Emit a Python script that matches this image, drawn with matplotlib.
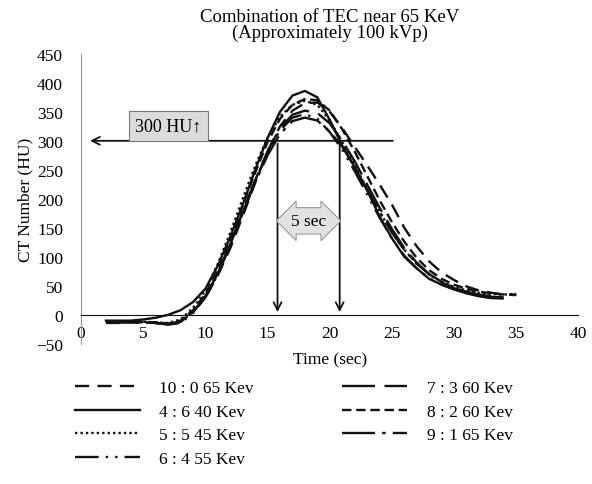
import matplotlib
matplotlib.use("Agg")
import matplotlib.pyplot as plt

plt.rcParams['font.family'] = ['Liberation Serif', 'DejaVu Serif']

# Time (sec) sample points
time = list(range(2, 36))

# CT number (HU) per protocol
hu_10_0 = [-14, -14, -13, -13, -14, -16, -12, 5, 30, 68, 115, 170, 228, 282, 325, 352, 365, 366,
           350, 322, 290, 258, 225, 190, 150, 118, 92, 73, 60, 49, 42, 38, 35, 34]
hu_4_6 = [-10, -10, -10, -8, -5, 0, 8, 22, 45, 85, 135, 190, 250, 305, 350, 378, 386, 375,
          336, 292, 255, 215, 170, 132, 100, 80, 62, 52, 44, 37, 32, 29]
hu_5_5 = [-12, -12, -12, -12, -13, -14, -8, 12, 42, 88, 142, 200, 257, 305, 342, 362, 369, 362,
          335, 298, 258, 218, 178, 142, 112, 88, 70, 57, 48, 42, 38, 36, 35, 36]
hu_6_4 = [-13, -13, -13, -13, -14, -17, -14, 3, 30, 70, 120, 175, 230, 280, 318, 340, 346, 338,
          315, 285, 248, 208, 168, 132, 102, 80, 63, 52, 44, 38, 34, 31, 30]
hu_7_3 = [-12, -12, -12, -13, -14, -16, -12, 5, 32, 72, 122, 178, 232, 282, 322, 345, 352, 348,
          330, 300, 265, 225, 185, 148, 115, 90, 70, 56, 46, 38, 33, 29, 28]
hu_8_2 = [-12, -12, -12, -12, -13, -15, -10, 8, 36, 78, 130, 188, 245, 298, 338, 362, 372, 370,
          352, 320, 282, 240, 198, 160, 126, 98, 77, 62, 52, 45, 40, 37, 35, 35]
hu_9_1 = [-13, -13, -13, -13, -14, -16, -12, 5, 32, 72, 122, 176, 228, 275, 312, 334, 340, 335,
          316, 290, 255, 216, 178, 142, 112, 88, 70, 57, 47, 40, 35, 32, 30]

labels = ["10 : 0 65 Kev", "4 : 6 40 Kev", "5 : 5 45 Kev", "6 : 4 55 Kev",
          "7 : 3 60 Kev", "8 : 2 60 Kev", "9 : 1 65 Kev"]
series = [hu_10_0, hu_4_6, hu_5_5, hu_6_4, hu_7_3, hu_8_2, hu_9_1]

threshold = 300
enter_t, leave_t = 15.8, 20.8

# line styles for each protocol
styles = [(0, (6, 3.5)), '-', (0, (1, 1.3)), (0, (10, 3, 1, 3, 1, 3)),
          (0, (14, 4)), (0, (4, 2)), (0, (14, 3, 1.5, 3))]

fig = plt.figure(figsize=(5.92, 4.85), dpi=100)
ax = fig.add_axes([0.137, 0.289, 0.840, 0.598])

for vals, lab, ls in zip(series, labels, styles):
    ax.plot(time[:len(vals)], vals, color='#111111', lw=1.7, linestyle=ls, label=lab)

ax.set_xlim(0, 40)
ax.set_ylim(-50, 450)
ax.set_xticks(range(0, 41, 5))
ax.set_yticks(range(-50, 451, 50))
ax.tick_params(axis='both', length=0, labelsize=12.5)
ax.tick_params(axis='y', pad=13)
ax.tick_params(axis='x', pad=7)

ax.spines['top'].set_visible(False)
ax.spines['right'].set_visible(False)
ax.spines['left'].set_color('#999999')
ax.spines['bottom'].set_position(('data', 0))
ax.spines['bottom'].set_color('#111111')

ax.set_xlabel("Time (sec)", fontsize=12.5, labelpad=8)
ax.set_ylabel("CT Number (HU)", fontsize=12.5, labelpad=2)
ax.set_title("Combination of TEC near 65 KeV\n(Approximately 100 kVp)", fontsize=13.5,
             linespacing=0.95, pad=12)

# annotations: threshold and time window
arrow = dict(arrowstyle='->', color='#111111', lw=1.3, mutation_scale=14)
ax.annotate('', xy=(0.5, threshold), xytext=(25.3, threshold), arrowprops=arrow)
ax.annotate('', xy=(enter_t, 0), xytext=(enter_t, threshold), arrowprops=arrow)
ax.annotate('', xy=(leave_t, 0), xytext=(leave_t, threshold), arrowprops=arrow)

ax.text(7.0, 326, "300 HU↑", fontsize=13, ha='center', va='center',
        bbox=dict(boxstyle='square,pad=0.35', fc='#dcdcdc', ec='#777777', lw=0.8))
ax.text((enter_t + leave_t) / 2, 162, "5 sec", fontsize=12.5, ha='center', va='center',
        bbox=dict(boxstyle='darrow,pad=0.3', fc='#e2e2e2', ec='#999999', lw=0.8))

fig.legend(loc='upper left', bbox_to_anchor=(0.112, 0.232), ncol=2, frameon=False,
           fontsize=12.5, handlelength=3.75, handletextpad=1.1, columnspacing=5.1,
           labelspacing=0.42, borderpad=0)

fig.savefig("out.png", dpi=100)
